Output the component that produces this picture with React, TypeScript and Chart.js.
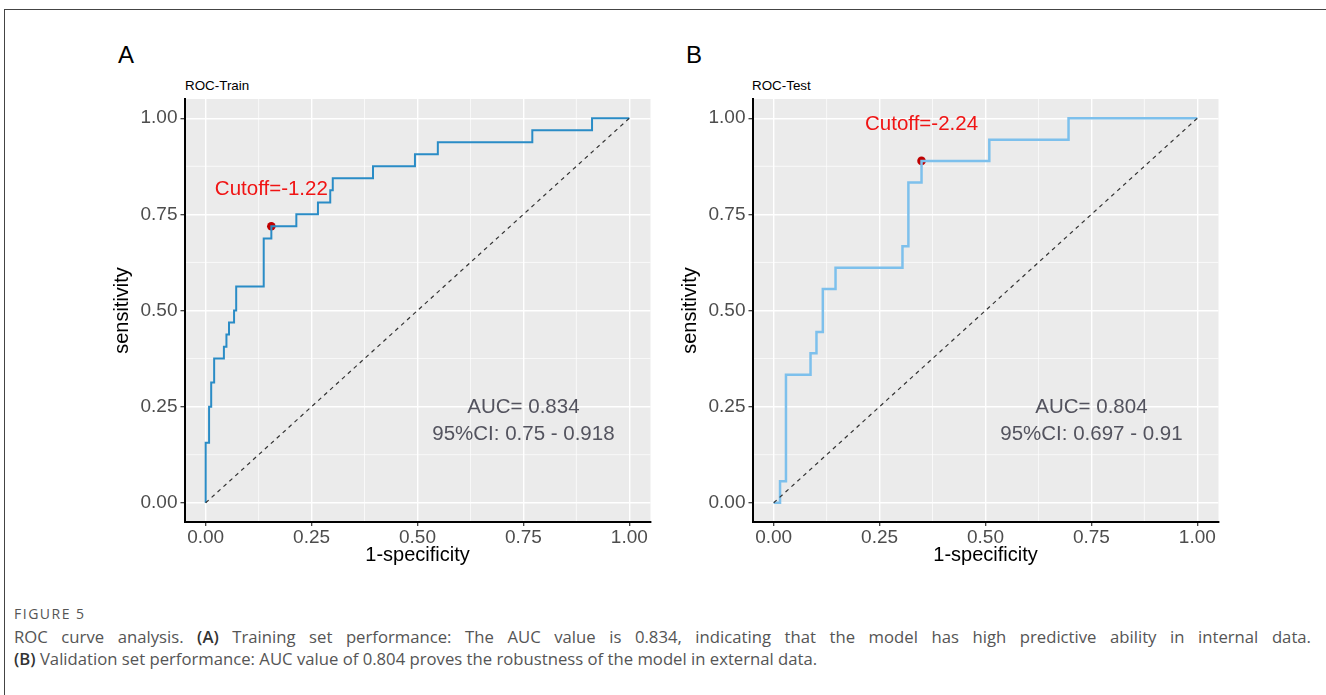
import React, { useEffect, useRef } from 'react';
import { Chart, registerables } from 'chart.js';

Chart.register(...registerables);

// ---------- data ----------
const axisTicks = [0, 0.25, 0.5, 0.75, 1];
const axisTickLabels = ['0.00', '0.25', '0.50', '0.75', '1.00'];
const minorTicks = [0.125, 0.375, 0.625, 0.875];

const diagX = [0, 1];
const diagY = [0, 1];

// Training set ROC (1-specificity, sensitivity)
const trainFpr = [0, 0, 0.008, 0.013, 0.02, 0.043, 0.049, 0.055, 0.067, 0.072, 0.137, 0.155, 0.214, 0.265, 0.294, 0.3, 0.395, 0.494, 0.548, 0.771, 0.912, 1];
const trainTpr = [0, 0.156, 0.25, 0.3125, 0.375, 0.406, 0.4375, 0.469, 0.5, 0.5625, 0.6875, 0.719, 0.75, 0.781, 0.8125, 0.844, 0.875, 0.906, 0.9375, 0.969, 1, 1];
const trainCutoff = [0.155, 0.719];
const trainCutoffText = 'Cutoff=-1.22';
const trainAucLines = ['AUC= 0.834', '95%CI: 0.75 - 0.918'];

// Test set ROC
const testFpr = [0, 0.015, 0.029, 0.087, 0.101, 0.116, 0.146, 0.304, 0.318, 0.349, 0.509, 0.696, 1];
const testTpr = [0, 0.056, 0.333, 0.389, 0.444, 0.556, 0.611, 0.667, 0.833, 0.889, 0.944, 1, 1];
const testCutoff = [0.349, 0.889];
const testCutoffText = 'Cutoff=-2.24';
const testAucLines = ['AUC= 0.804', '95%CI: 0.697 - 0.91'];

// annotation anchors (data units)
const cutoffLabelLift = 0.095;
const aucAnchor = [0.75, 0.247];

const FONT = '"Liberation Sans", Arial, Helvetica, sans-serif';
const CAPFONT = '"Open Sans", "Noto Sans", sans-serif';

type PanelProps = {
  fpr: number[];
  tpr: number[];
  cutoff: number[];
  cutoffText: string;
  aucLines: string[];
  color: string;
  lineWidth: number;
  left: number;
  top: number;
};

function RocPanel(props: PanelProps) {
  const ref = useRef<HTMLCanvasElement | null>(null);
  useEffect(() => {
    if (!ref.current) return;
    const { fpr, tpr, cutoff, cutoffText, aucLines, color, lineWidth } = props;

    const panelPlugin = {
      id: 'panelDecor',
      beforeDraw(chart: any) {
        const { ctx, chartArea: a, scales } = chart;
        ctx.save();
        ctx.fillStyle = '#ebebeb';
        ctx.fillRect(a.left, a.top, a.right - a.left, a.bottom - a.top);
        ctx.strokeStyle = '#ffffff';
        ctx.lineWidth = 0.7;
        for (const v of minorTicks) {
          const px = scales.x.getPixelForValue(v);
          ctx.beginPath();
          ctx.moveTo(px, a.top);
          ctx.lineTo(px, a.bottom);
          ctx.stroke();
          const py = scales.y.getPixelForValue(v);
          ctx.beginPath();
          ctx.moveTo(a.left, py);
          ctx.lineTo(a.right, py);
          ctx.stroke();
        }
        ctx.restore();
      },
      afterDatasetsDraw(chart: any) {
        const { ctx, scales } = chart;
        ctx.save();
        ctx.textAlign = 'center';
        ctx.textBaseline = 'middle';
        ctx.font = `20.5px ${FONT}`;
        ctx.fillStyle = '#f01414';
        ctx.fillText(
          cutoffText,
          scales.x.getPixelForValue(cutoff[0]),
          scales.y.getPixelForValue(cutoff[1] + cutoffLabelLift)
        );
        ctx.fillStyle = '#53535e';
        const ax = scales.x.getPixelForValue(aucAnchor[0]);
        const ay = scales.y.getPixelForValue(aucAnchor[1]);
        aucLines.forEach((t, i) => ctx.fillText(t, ax, ay + i * 26.6));
        ctx.restore();
      },
    };

    const tickFont = { family: FONT, size: 19 };
    const titleFont = { family: FONT, size: 20 };
    const labelFor = (_v: any, i: number) => axisTickLabels[i];

    const chart = new Chart(ref.current, {
      type: 'line',
      data: {
        datasets: [
          {
            data: diagX.map((x, i) => ({ x, y: diagY[i] })),
            borderColor: '#333333',
            borderWidth: 1.2,
            borderDash: [4, 4],
            pointRadius: 0,
            fill: false,
          },
          {
            data: fpr.map((x, i) => ({ x, y: tpr[i] })),
            borderColor: color,
            borderWidth: lineWidth,
            stepped: 'before',
            pointRadius: 0,
            fill: false,
          },
          {
            data: [{ x: cutoff[0], y: cutoff[1] }],
            showLine: false,
            pointRadius: 4.3,
            pointBackgroundColor: '#c00000',
            pointBorderColor: '#c00000',
            pointBorderWidth: 0,
          },
        ] as any,
      },
      options: {
        animation: false,
        responsive: false,
        devicePixelRatio: 1,
        events: [],
        layout: { padding: { left: 0, top: 15, right: 9.5, bottom: 0 } },
        plugins: { legend: { display: false }, tooltip: { enabled: false } },
        scales: {
          x: {
            type: 'linear',
            min: -0.05,
            max: 1.05,
            afterBuildTicks: (s: any) => {
              s.ticks = axisTicks.map((v) => ({ value: v }));
            },
            afterFit: (s: any) => {
              s.height = 48;
            },
            ticks: { callback: labelFor, font: tickFont, color: '#4d4d4d', padding: 0, maxRotation: 0, autoSkip: false },
            grid: { color: '#ffffff', lineWidth: 1.4, tickColor: '#333333', tickLength: 4, tickWidth: 1.2, drawTicks: true },
            border: { display: true, color: '#000000', width: 2 },
            title: { display: true, text: '1-specificity', font: titleFont, color: '#000000', padding: { top: 0, bottom: 3 } },
          },
          y: {
            type: 'linear',
            min: -0.05,
            max: 1.05,
            afterBuildTicks: (s: any) => {
              s.ticks = axisTicks.map((v) => ({ value: v }));
            },
            afterFit: (s: any) => {
              s.width = 84.5;
            },
            ticks: { callback: labelFor, font: tickFont, color: '#4d4d4d', padding: 3, autoSkip: false },
            grid: { color: '#ffffff', lineWidth: 1.4, tickColor: '#333333', tickLength: 4, tickWidth: 1.2, drawTicks: true },
            border: { display: true, color: '#000000', width: 2 },
            title: { display: true, text: 'sensitivity', font: titleFont, color: '#000000', padding: { top: 10, bottom: 0 } },
          },
        },
      } as any,
      plugins: [panelPlugin],
    });
    return () => chart.destroy();
  }, []);

  return (
    <canvas
      ref={ref}
      width={560}
      height={486}
      style={{ position: 'absolute', left: props.left, top: props.top, width: 560, height: 486 }}
    />
  );
}

const textBase: React.CSSProperties = { position: 'absolute', whiteSpace: 'nowrap', margin: 0 };

export default function App() {
  return (
    <div
      style={{
        position: 'absolute',
        left: 0,
        top: 0,
        width: 1326,
        height: 695,
        overflow: 'hidden',
        background: '#ffffff',
      }}
    >
      <div
        style={{
          position: 'absolute',
          left: 4,
          top: 9,
          width: 1400,
          height: 800,
          borderTop: '1px solid #444',
          borderLeft: '1px solid #444',
        }}
      />
      <div style={{ ...textBase, left: 118, top: 41, font: `24px ${FONT}`, lineHeight: '28px', color: '#000' }}>A</div>
      <div style={{ ...textBase, left: 686, top: 41, font: `24px ${FONT}`, lineHeight: '28px', color: '#000' }}>B</div>
      <div style={{ ...textBase, left: 185, top: 78, font: `13.4px ${FONT}`, lineHeight: '16px', color: '#000' }}>ROC-Train</div>
      <div style={{ ...textBase, left: 752, top: 78, font: `13.4px ${FONT}`, lineHeight: '16px', color: '#000' }}>ROC-Test</div>

      <RocPanel
        fpr={trainFpr}
        tpr={trainTpr}
        cutoff={trainCutoff}
        cutoffText={trainCutoffText}
        aucLines={trainAucLines}
        color="#2a8cc6"
        lineWidth={2}
        left={100}
        top={84}
      />
      <RocPanel
        fpr={testFpr}
        tpr={testTpr}
        cutoff={testCutoff}
        cutoffText={testCutoffText}
        aucLines={testAucLines}
        color="#7dc0ec"
        lineWidth={2.5}
        left={668}
        top={84}
      />

      <div
        style={{
          ...textBase,
          left: 14,
          top: 605,
          font: `14px ${CAPFONT}`,
          lineHeight: '18px',
          letterSpacing: '1.5px',
          color: '#555',
        }}
      >
        FIGURE 5
      </div>
      <div
        style={{
          position: 'absolute',
          left: 14,
          top: 626,
          width: 1297,
          font: `16.7px ${CAPFONT}`,
          lineHeight: '22px',
          color: '#555',
          textAlign: 'justify',
          textAlignLast: 'justify',
          whiteSpace: 'nowrap',
        }}
      >
        ROC curve analysis. <b style={{ fontWeight: 600, color: '#333' }}>(A)</b> Training set performance: The AUC value is 0.834, indicating that the model has high predictive ability in internal data.
      </div>
      <div
        style={{
          ...textBase,
          left: 14,
          top: 648,
          font: `16.7px ${CAPFONT}`,
          lineHeight: '22px',
          color: '#555',
        }}
      >
        <b style={{ fontWeight: 600, color: '#333' }}>(B)</b> Validation set performance: AUC value of 0.804 proves the robustness of the model in external data.
      </div>
    </div>
  );
}
